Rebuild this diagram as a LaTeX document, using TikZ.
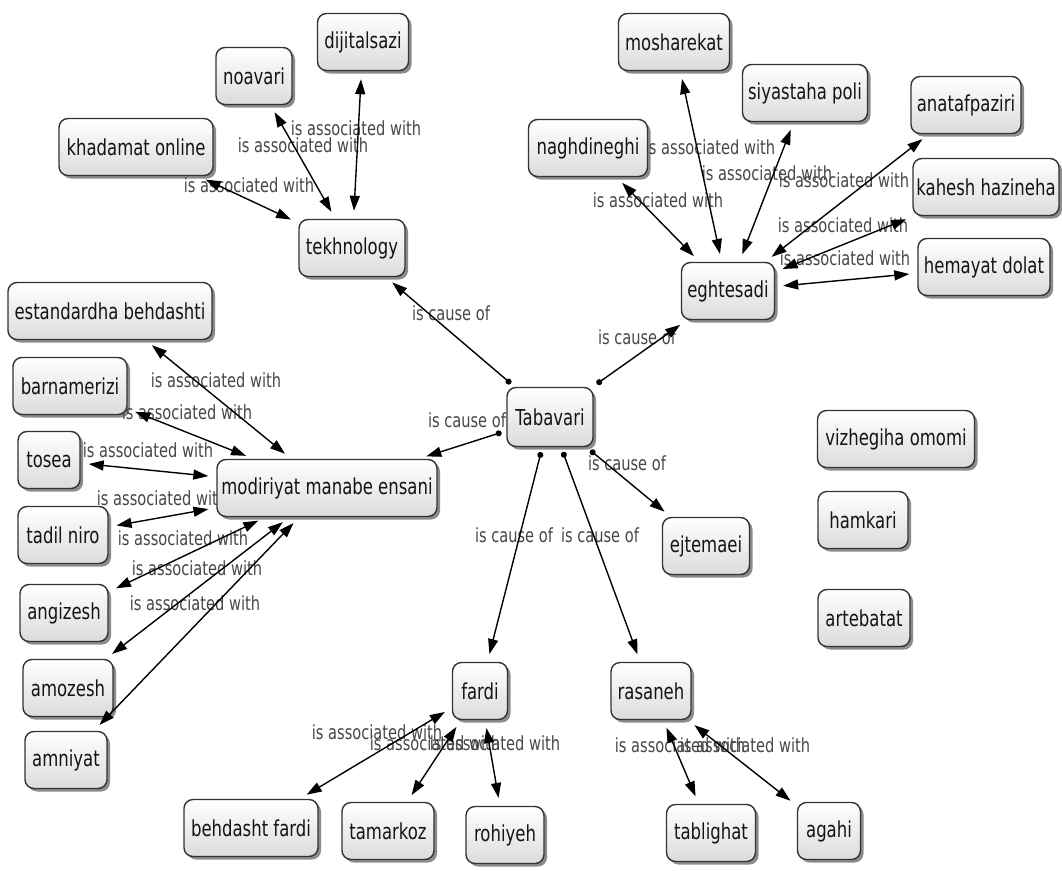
\documentclass[tikz,border=0pt]{standalone}
\usepackage{fontspec}
\setmainfont{DejaVu Sans}[FakeStretch=0.75]
\usetikzlibrary{arrows.meta,shadows}
\pgfdeclarelayer{paper}
\pgfdeclarelayer{bg}
\pgfsetlayers{paper,bg,main}
\begin{document}
\begin{tikzpicture}[x=1pt,y=-1pt,
  concept/.style={rectangle, rounded corners=9pt, draw=black!80, line width=1.4pt,
    top color=white, bottom color=black!14,
    drop shadow={shadow xshift=3pt, shadow yshift=-3pt, opacity=0.6, fill=black!75},
    minimum height=57pt, inner xsep=2pt, font=\fontsize{22}{26}\selectfont, text=black!92},
  rel/.style={font=\fontsize{19.5}{23}\selectfont, text=black!72, inner sep=0pt},
  assoc/.style={{Triangle[length=15pt,width=10pt]}-{Triangle[length=15pt,width=10pt]},
    line width=1.4pt, shorten <=8pt, shorten >=8pt},
  cause/.style={{Circle[length=6pt]}-{Triangle[length=15pt,width=10pt]},
    line width=1.4pt, shorten <=5pt, shorten >=8pt},
]
\begin{pgfonlayer}{paper}
\fill[white] (0,0) rectangle (1062,870);
\end{pgfonlayer}
\useasboundingbox (0,0) rectangle (1062,870);

% concepts
\node[concept, minimum width=106pt] (tek) at (352,248) {tekhnology};
\node[concept, minimum width=154pt] (kh) at (136,147) {khadamat online};
\node[concept, minimum width=76pt] (nov) at (254,76) {noavari};
\node[concept, minimum width=91pt] (dij) at (363,42) {dijitalsazi};
\node[concept, minimum width=111pt] (mosh) at (674,42) {mosharekat};
\node[concept, minimum width=125pt] (siy) at (805,93) {siyastaha poli};
\node[concept, minimum width=110pt] (ana) at (966,105) {anatafpaziri};
\node[concept, minimum width=119pt] (nag) at (588,148) {naghdineghi};
\node[concept, minimum width=146pt] (kah) at (986,187) {kahesh hazineha};
\node[concept, minimum width=132pt] (hem) at (984,267) {hemayat dolat};
\node[concept, minimum width=93pt] (egh) at (728,291) {eghtesadi};
\node[concept, minimum width=204pt] (est) at (110,311) {estandardha behdashti};
\node[concept, minimum width=114pt] (bar) at (70,386) {barnamerizi};
\node[concept, minimum width=62pt] (tos) at (49,460) {tosea};
\node[concept, minimum width=90pt] (tad) at (63,535) {tadil niro};
\node[concept, minimum width=88pt] (ang) at (64,613) {angizesh};
\node[concept, minimum width=90pt] (amo) at (68,688) {amozesh};
\node[concept, minimum width=82pt] (amn) at (66,760) {amniyat};
\node[concept, minimum width=220pt] (mod) at (327,488) {modiriyat manabe ensani};
\node[concept, minimum width=86pt, minimum height=59pt] (tab) at (550,417) {Tabavari};
\node[concept, minimum width=87pt] (ejt) at (706,546) {ejtemaei};
\node[concept, minimum width=157pt] (viz) at (896,439) {vizhegiha omomi};
\node[concept, minimum width=90pt] (ham) at (863,520) {hamkari};
\node[concept, minimum width=92pt] (art) at (864,618) {artebatat};
\node[concept, minimum width=55pt] (far) at (480,691) {fardi};
\node[concept, minimum width=80pt] (ras) at (651,691) {rasaneh};
\node[concept, minimum width=134pt] (beh) at (251,828) {behdasht fardi};
\node[concept, minimum width=92pt] (tam) at (388,831) {tamarkoz};
\node[concept, minimum width=78pt] (roh) at (505,835) {rohiyeh};
\node[concept, minimum width=89pt] (tbl) at (711,833) {tablighat};
\node[concept, minimum width=63pt] (aga) at (829,831) {agahi};

% connectors
\draw[assoc] (kh) -- (tek);
\draw[assoc] (nov) -- (tek);
\draw[assoc] (dij) -- (tek);
\draw[cause] (tab) -- (tek);
\draw[cause] (tab) -- (egh);
\draw[cause] (tab) -- (mod);
\draw[cause] (tab) -- (ejt);
\draw[cause] (tab) -- (far);
\draw[cause] (tab) -- (ras);
\draw[assoc] (mosh) -- (egh);
\draw[assoc] (siy) -- (egh);
\draw[assoc] (nag) -- (egh);
\draw[assoc] (ana) -- (egh);
\draw[assoc] (kah) -- (egh);
\draw[assoc] (hem) -- (egh);
\draw[assoc] (est) -- (mod);
\draw[assoc] (bar) -- (mod);
\draw[assoc] (tos) -- (mod);
\draw[assoc] (tad) -- (mod);
\draw[assoc] (ang) -- (mod);
\draw[assoc] (amo) -- (mod);
\draw[assoc] (amn) -- (mod);
\draw[assoc] (far) -- (beh);
\draw[assoc] (far) -- (tam);
\draw[assoc] (far) -- (roh);
\draw[assoc] (ras) -- (tbl);
\draw[assoc] (ras) -- (aga);

% labels (behind)
\begin{pgfonlayer}{bg}
\node[rel] (lkh) at (249,185) {is associated with};
\node[rel] (lnov) at (303,145) {is associated with};
\node[rel] (ldij) at (356,128) {is associated with};
\node[rel] (ltek) at (451,313) {is cause of};
\node[rel] (legh) at (637,337) {is cause of};
\node[rel] (lmod) at (467,420) {is cause of};
\node[rel] (lejt) at (627,463) {is cause of};
\node[rel] (lfar) at (514,535) {is cause of};
\node[rel] (lras) at (600,535) {is cause of};
\node[rel] (lmosh) at (710,147) {is associated with};
\node[rel] (lsiy) at (767,173) {is associated with};
\node[rel] (lnag) at (658,200) {is associated with};
\node[rel] (lana) at (844,180) {is associated with};
\node[rel] (lkah) at (843,225) {is associated with};
\node[rel] (lhem) at (845,258) {is associated with};
\node[rel] (lest) at (216,380) {is associated with};
\node[rel] (lbar) at (187,412) {is associated with};
\node[rel] (ltos) at (148,450) {is associated with};
\node[rel] (ltad) at (162,498) {is associated with};
\node[rel] (lang) at (183,538) {is associated with};
\node[rel] (lamo) at (197,568) {is associated with};
\node[rel] (lamn) at (195,603) {is associated with};
\node[rel] (lbeh) at (377,732) {is associated with};
\node[rel] (ltam) at (435,743) {is associated with};
\node[rel] (lroh) at (495,743) {is associated with};
\node[rel] (ltbl) at (680,745) {is associated with};
\node[rel] (laga) at (745,745) {is associated with};
\end{pgfonlayer}
\end{tikzpicture}
\end{document}
